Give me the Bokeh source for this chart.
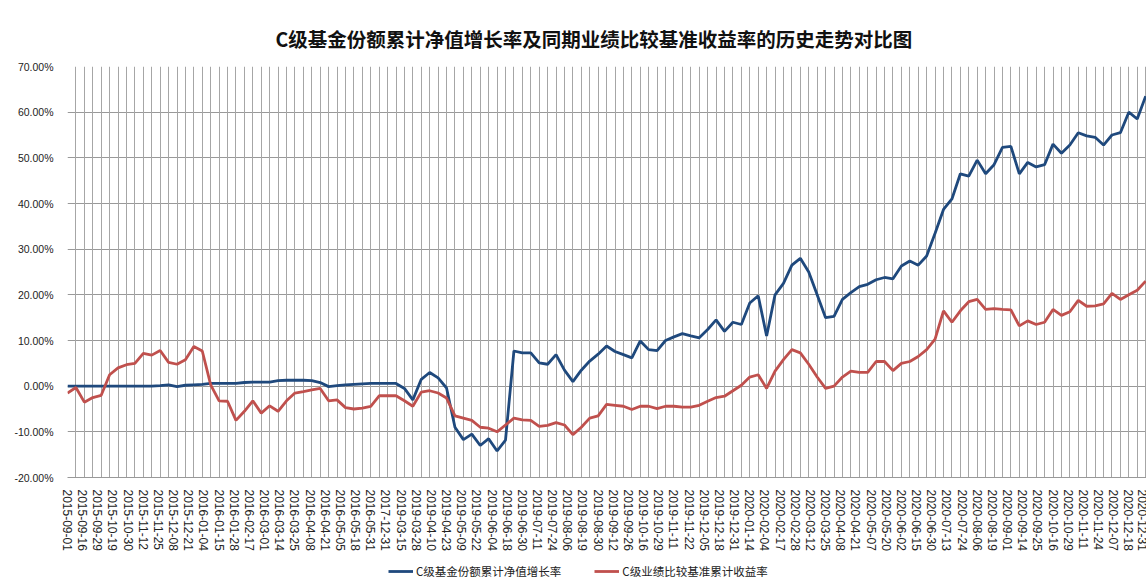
from bokeh.plotting import figure
from bokeh.layouts import column
from bokeh.models import Range1d, FixedTicker, Grid, PrintfTickFormatter, Legend, LegendItem, Title
from bokeh.embed import file_html
from bokeh.resources import INLINE

# ---- data -------------------------------------------------------------
date_labels = [
    "2015-09-01", "2015-09-16", "2015-09-29", "2015-10-19", "2015-10-30", "2015-11-12",
    "2015-11-25", "2015-12-08", "2015-12-21", "2016-01-04", "2016-01-15", "2016-01-28",
    "2016-02-17", "2016-03-01", "2016-03-14", "2016-03-25", "2016-04-08", "2016-04-21",
    "2016-05-05", "2016-05-18", "2016-05-31", "2017-12-31", "2019-03-15", "2019-03-28",
    "2019-04-10", "2019-04-23", "2019-05-09", "2019-05-22", "2019-06-04", "2019-06-18",
    "2019-06-30", "2019-07-11", "2019-07-24", "2019-08-06", "2019-08-19", "2019-08-30",
    "2019-09-12", "2019-09-26", "2019-10-16", "2019-10-29", "2019-11-11", "2019-11-22",
    "2019-12-05", "2019-12-18", "2019-12-31", "2020-01-14", "2020-02-04", "2020-02-17",
    "2020-02-28", "2020-03-12", "2020-03-25", "2020-04-08", "2020-04-21", "2020-05-07",
    "2020-05-20", "2020-06-02", "2020-06-15", "2020-06-30", "2020-07-13", "2020-07-24",
    "2020-08-06", "2020-08-19", "2020-09-01", "2020-09-14", "2020-09-25", "2020-10-16",
    "2020-10-29", "2020-11-11", "2020-11-24", "2020-12-07", "2020-12-18", "2020-12-31",
]

# cumulative NAV growth of the C share class (%), one reading every 5 trading days
fund_growth = [
    0.0, 0.0, 0.0, 0.0, 0.0, 0.0, 0.0, 0.0, 0.0, 0.0,
    0.0, 0.1, 0.3, -0.1, 0.2, 0.3, 0.4, 0.6, 0.6, 0.6,
    0.6, 0.8, 0.9, 0.9, 0.9, 1.2, 1.3, 1.3, 1.3, 1.2,
    0.8, -0.1, 0.1, 0.3, 0.4, 0.5, 0.6, 0.6, 0.6, 0.6,
    -0.5, -3.0, 1.5, 3.0, 1.8, -0.4, -9.0, -11.7, -10.5, -13.0,
    -11.5, -14.2, -11.8, 7.7, 7.3, 7.3, 5.1, 4.8, 6.9, 3.5,
    1.0, 3.5, 5.5, 7.0, 8.8, 7.6, 6.9, 6.2, 9.9, 8.0,
    7.8, 10.0, 10.8, 11.5, 11.0, 10.6, 12.4, 14.5, 12.0, 14.0,
    13.5, 18.2, 19.8, 11.0, 20.0, 22.5, 26.5, 28.0, 25.0, 20.0,
    15.0, 15.3, 19.0, 20.5, 21.8, 22.3, 23.3, 23.8, 23.5, 26.3,
    27.4, 26.5, 28.5, 33.5, 38.7, 41.0, 46.5, 46.0, 49.5, 46.5,
    48.5, 52.3, 52.5, 46.5, 49.0, 48.0, 48.5, 53.0, 51.0, 52.8,
    55.5, 54.8, 54.5, 52.8, 55.0, 55.5, 60.0, 58.5, 63.5,
]

# cumulative benchmark return (%), same sampling
benchmark = [
    -1.5, -0.3, -3.5, -2.5, -2.0, 2.5, 4.0, 4.7, 5.0, 7.2,
    6.8, 7.8, 5.2, 4.8, 5.8, 8.7, 7.7, 0.3, -3.2, -3.3,
    -7.5, -5.5, -3.2, -5.9, -4.3, -5.5, -3.2, -1.5, -1.2, -0.8,
    -0.5, -3.2, -3.0, -4.7, -5.0, -4.8, -4.4, -2.1, -2.1, -2.1,
    -3.2, -4.4, -1.3, -1.0, -1.5, -2.6, -6.5, -7.0, -7.5, -9.0,
    -9.2, -10.0, -8.5, -7.0, -7.4, -7.5, -8.8, -8.6, -8.0, -8.5,
    -10.6, -9.0, -7.0, -6.5, -4.0, -4.2, -4.4, -5.1, -4.4, -4.4,
    -4.9, -4.4, -4.4, -4.6, -4.6, -4.2, -3.3, -2.5, -2.2, -1.0,
    0.2, 2.0, 2.5, -0.5, 3.3, 5.8, 8.0, 7.3, 4.8, 2.0,
    -0.5, 0.0, 2.0, 3.3, 3.0, 3.0, 5.4, 5.4, 3.4, 5.0,
    5.4, 6.5, 8.0, 10.3, 16.5, 14.0, 16.5, 18.5, 19.0, 16.8,
    17.0, 16.8, 16.7, 13.2, 14.3, 13.5, 14.0, 16.8, 15.5, 16.3,
    18.8, 17.5, 17.6, 18.0, 20.3, 19.0, 20.0, 21.0, 23.0,
]

y_ticks = [-20, -10, 0, 10, 20, 30, 40, 50, 60, 70]
SAMPLE_STEP = 5   # trading days between readings
LABEL_STEP = 9    # trading days between date labels
GRID_STEP = 5     # trading days between vertical grid lines

title_text = "C级基金份额累计净值增长率及同期业绩比较基准收益率的历史走势对比图"
name_fund = "C级基金份额累计净值增长率"
name_bench = "C级业绩比较基准累计收益率"

FUND_COLOR = "#1f497d"
BENCH_COLOR = "#c0504d"

# ---- main figure ------------------------------------------------------
x_idx = [i * SAMPLE_STEP for i in range(len(fund_growth))]
n_days = (len(date_labels) - 1) * LABEL_STEP + 1

p = figure(width=1146, height=558, output_backend="svg", toolbar_location=None,
           x_range=Range1d(0, n_days + 0.5), y_range=Range1d(-20, 70),
           min_border_left=67, min_border_right=0, min_border_top=66,
           min_border_bottom=81)
p.outline_line_color = None
p.background_fill_color = "white"
p.border_fill_color = "white"

p.title = Title(text=title_text, align="left", text_font="Noto Sans CJK SC",
                text_font_size="19.5px", text_font_style="bold", text_color="#111111",
                standoff=28, offset=208)

label_ticks = [i * LABEL_STEP for i in range(len(date_labels))]
p.xaxis.ticker = FixedTicker(ticks=label_ticks)
p.xaxis.major_label_overrides = {label_ticks[i]: date_labels[i] for i in range(len(date_labels))}
p.xaxis.major_label_orientation = "vertical"
p.xaxis.major_label_text_font = "Liberation Sans"
p.xaxis.major_label_text_font_size = "12px"
p.xaxis.major_label_text_color = "#222222"
p.xaxis.major_tick_line_color = None
p.xaxis.minor_tick_line_color = None
p.xaxis.axis_line_color = "#999999"
p.xaxis.major_label_standoff = 6

p.yaxis.ticker = FixedTicker(ticks=y_ticks)
p.yaxis.formatter = PrintfTickFormatter(format="%.2f%%")
p.yaxis.major_label_text_font = "Liberation Sans"
p.yaxis.major_label_text_font_size = "10.5px"
p.yaxis.major_label_text_color = "#222222"
p.yaxis.major_tick_line_color = None
p.yaxis.minor_tick_line_color = None
p.yaxis.axis_line_color = None
p.yaxis.major_label_standoff = 8

p.xgrid.visible = False
p.ygrid.grid_line_color = "#999999"
p.ygrid.grid_line_width = 1
vgrid = Grid(dimension=0, ticker=FixedTicker(ticks=list(range(0, n_days + 1, GRID_STEP))),
             grid_line_color="#a6a6a6", grid_line_width=1)
p.add_layout(vgrid)

p.line(x_idx, fund_growth, line_color=FUND_COLOR, line_width=2.8)
p.line(x_idx, benchmark, line_color=BENCH_COLOR, line_width=2.8)

# ---- legend strip (same series, view placed away from the data) -------
lg = figure(width=1146, height=30, output_backend="svg", toolbar_location=None,
            x_range=Range1d(0, n_days + 0.5), y_range=Range1d(1000, 1001),
            x_axis_location=None, y_axis_location=None,
            min_border_left=0, min_border_right=0, min_border_top=0, min_border_bottom=0)
lg.outline_line_color = None
lg.xgrid.visible = False
lg.ygrid.visible = False
lr1 = lg.line(x_idx, fund_growth, line_color=FUND_COLOR, line_width=2.8)
lr2 = lg.line(x_idx, benchmark, line_color=BENCH_COLOR, line_width=2.8)

legend = Legend(items=[LegendItem(label=name_fund, renderers=[lr1]),
                       LegendItem(label=name_bench, renderers=[lr2])],
                orientation="horizontal", location=(321, 9),
                label_text_font="Noto Sans CJK SC", label_text_font_size="11.5px",
                label_text_color="#222222", glyph_width=25, glyph_height=14,
                label_standoff=3, spacing=33, padding=4, margin=0,
                border_line_color=None, background_fill_alpha=0)
lg.add_layout(legend)

layout = column(p, lg, spacing=0)
open("out.html", "w").write(file_html(layout, INLINE))
